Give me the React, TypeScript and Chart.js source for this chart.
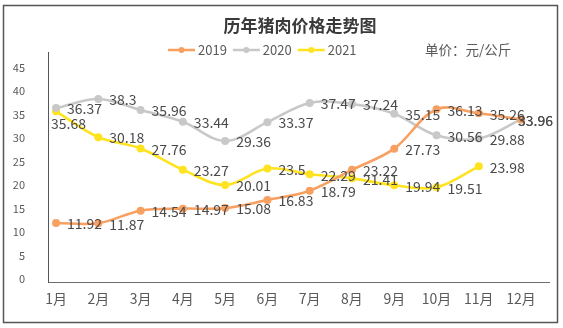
import React, { useEffect, useRef } from 'react';
import { Chart, registerables } from 'chart.js';
Chart.register(...registerables);

const months = ['1月', '2月', '3月', '4月', '5月', '6月', '7月', '8月', '9月', '10月', '11月', '12月'];
const yTickValues = [0, 5, 10, 15, 20, 25, 30, 35, 40, 45];
const seriesNames = ['2019', '2020', '2021'];
const values2019 = [11.92, 11.87, 14.54, 14.97, 15.08, 16.83, 18.79, 23.22, 27.73, 36.13, 35.26, 33.96];
const values2020 = [36.37, 38.3, 35.96, 33.44, 29.36, 33.37, 37.47, 37.24, 35.15, 30.56, 29.88, 33.96];
const values2021: (number | null)[] = [35.68, 30.18, 27.76, 23.27, 20.01, 23.5, 22.29, 21.41, 19.94, 19.51, 23.98, null];
const titleText = '历年猪肉价格走势图';
const unitText = '单价：元/公斤';

const FONT = "'Noto Sans CJK SC', 'Noto Sans', sans-serif";
const colors = ['#F8A062', '#C8C8C8', '#FFE31F'];

const decorPlugin = {
  id: 'decor',
  beforeDraw(chart: any) {
    const ctx = chart.ctx;
    ctx.save();
    ctx.fillStyle = '#ffffff';
    ctx.fillRect(0, 0, chart.width, chart.height);
    ctx.restore();
  },
  afterDatasetsDraw(chart: any) {
    const ctx = chart.ctx;
    ctx.save();
    ctx.font = `14px ${FONT}`;
    ctx.fillStyle = '#4a4a4a';
    ctx.textBaseline = 'middle';
    ctx.textAlign = 'left';
    chart.data.datasets.forEach((ds: any, di: number) => {
      const meta = chart.getDatasetMeta(di);
      meta.data.forEach((pt: any, i: number) => {
        const v = ds.data[i].y;
        if (v == null) return;
        const text = String(v);
        const w = ctx.measureText(text).width;
        let x = pt.x + 11;
        let y = pt.y + 1;
        if (di === 2 && i === 0) {
          x = pt.x - 5;
          y = pt.y + 12;
        }
        if (x + w > 553) x = 553 - w;
        ctx.fillText(text, x, y);
      });
    });
    ctx.restore();
  },
  afterDraw(chart: any) {
    const ctx = chart.ctx;
    ctx.save();
    ctx.strokeStyle = '#555555';
    ctx.lineWidth = 1.5;
    ctx.strokeRect(3.5, 5.5, 554, 317);
    ctx.fillStyle = '#3a3a3a';
    ctx.font = `bold 17px ${FONT}`;
    ctx.textAlign = 'center';
    ctx.textBaseline = 'middle';
    ctx.fillText(titleText, 300, 26);
    ctx.font = `13px ${FONT}`;
    ctx.textAlign = 'left';
    let lx = 168;
    const ly = 50;
    chart.data.datasets.forEach((ds: any, di: number) => {
      ctx.strokeStyle = colors[di];
      ctx.lineWidth = 2.5;
      ctx.beginPath();
      ctx.moveTo(lx, ly);
      ctx.lineTo(lx + 27, ly);
      ctx.stroke();
      ctx.fillStyle = colors[di];
      ctx.beginPath();
      ctx.arc(lx + 13.5, ly, 3, 0, Math.PI * 2);
      ctx.fill();
      ctx.fillStyle = '#595959';
      ctx.fillText(ds.label, lx + 30, ly);
      lx += 30 + ctx.measureText(ds.label).width + 6;
    });
    ctx.fillStyle = '#595959';
    ctx.font = `13.5px ${FONT}`;
    ctx.fillText(unitText, 425, ly);
    ctx.restore();
  },
};

export default function App() {
  const ref = useRef<HTMLCanvasElement | null>(null);
  useEffect(() => {
    if (!ref.current) return;
    const mk = (vals: (number | null)[]) => vals.map((v, i) => ({ x: i, y: v }));
    const all = [values2019, values2020, values2021];
    const chart = new Chart(ref.current, {
      type: 'line',
      data: {
        datasets: all.map((vals, di) => ({
          label: seriesNames[di],
          data: mk(vals),
          borderColor: colors[di],
          backgroundColor: colors[di],
          borderWidth: 2.6,
          pointRadius: 4,
          pointBorderWidth: 0,
          pointBackgroundColor: colors[di],
          tension: 0.35,
          fill: false,
        })),
      },
      options: {
        responsive: false,
        animation: false,
        layout: { padding: { top: 52, right: 14, left: 0, bottom: 0 } },
        plugins: {
          legend: { display: false },
          title: { display: false },
          tooltip: { enabled: false },
        },
        scales: {
          x: {
            type: 'linear',
            min: -0.19,
            max: 11.66,
            afterBuildTicks: (scale: any) => {
              scale.ticks = months.map((_, i) => ({ value: i }));
            },
            afterFit: (scale: any) => {
              scale.height = 46;
            },
            grid: { display: false, drawTicks: false },
            border: { display: true, color: '#6e6e6e', width: 1 },
            ticks: {
              autoSkip: false,
              maxRotation: 0,
              padding: 8,
              color: '#595959',
              font: { family: FONT, size: 14 },
              callback: (v: any) => months[v] ?? '',
            },
          },
          y: {
            min: -0.64,
            max: 48.3,
            afterBuildTicks: (scale: any) => {
              scale.ticks = yTickValues.map((v) => ({ value: v }));
            },
            afterFit: (scale: any) => {
              scale.width = 48;
            },
            grid: { display: false, drawTicks: false },
            border: { display: true, color: '#555555', width: 1 },
            ticks: {
              padding: 23,
              color: '#595959',
              font: { family: FONT, size: 11 },
            },
          },
        },
      },
      plugins: [decorPlugin],
    } as any);
    return () => chart.destroy();
  }, []);
  return (
    <div style={{ position: 'absolute', left: 0, top: 0, width: 563, height: 328 }}>
      <canvas ref={ref} width={563} height={328} />
    </div>
  );
}
